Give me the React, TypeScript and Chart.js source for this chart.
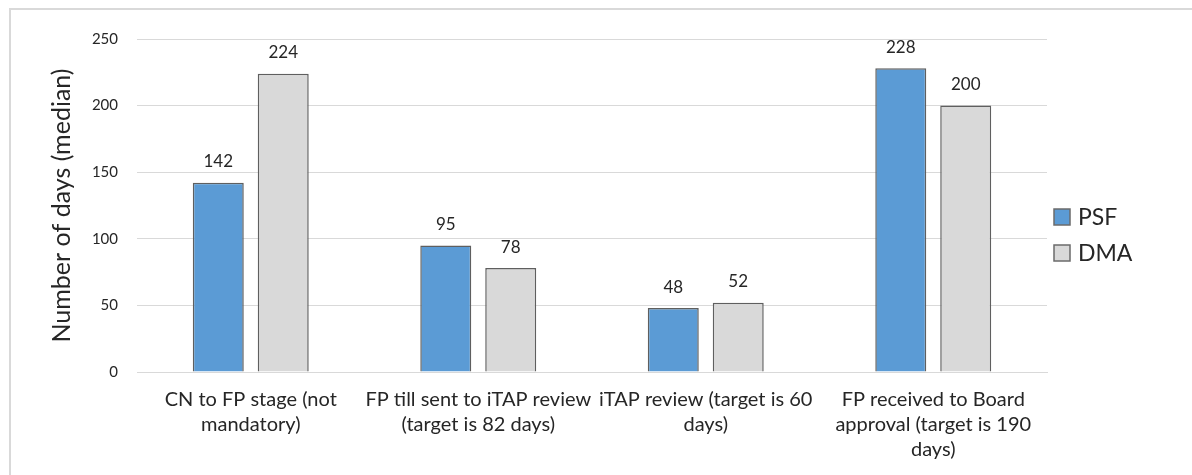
import React, { useEffect, useRef } from "react";
import { Chart, registerables } from "chart.js";

Chart.register(...registerables);

const categories: string[][] = [
  ["CN to FP stage (not", "mandatory)"],
  ["FP till sent to iTAP review", "(target is 82 days)"],
  ["iTAP review (target is 60", "days)"],
  ["FP received to Board", "approval (target is 190", "days)"],
];
const psfValues = [142, 95, 48, 228];
const dmaValues = [224, 78, 52, 200];
const seriesNames = ["PSF", "DMA"];
const yTicks = [0, 50, 100, 150, 200, 250];
const yTitle = "Number of days (median)";

const FONT = "Lato, 'Noto Sans', sans-serif";
const TEXT = "#262626";

const valueLabels = {
  id: "valueLabels",
  afterDatasetsDraw(chart: any) {
    const ctx = chart.ctx;
    ctx.save();
    ctx.font = `17px ${FONT}`;
    ctx.fillStyle = TEXT;
    ctx.textAlign = "center";
    ctx.textBaseline = "middle";
    chart.data.datasets.forEach((ds: any, i: number) => {
      const meta = chart.getDatasetMeta(i);
      meta.data.forEach((el: any, j: number) => {
        ctx.fillText(String(ds.data[j]), el.x, el.y - 21);
      });
    });
    ctx.restore();
  },
};

const customLegend = {
  id: "customLegend",
  afterDraw(chart: any) {
    const ctx = chart.ctx;
    const area = chart.chartArea;
    ctx.save();
    ctx.font = `23px ${FONT}`;
    ctx.textBaseline = "middle";
    ctx.textAlign = "left";
    const x = area.right + 7;
    const yStart = 217;
    chart.data.datasets.forEach((ds: any, i: number) => {
      const y = yStart + i * 36;
      ctx.fillStyle = ds.backgroundColor;
      ctx.fillRect(x, y - 8, 16, 16);
      ctx.strokeStyle = "#6b6b6b";
      ctx.lineWidth = 1.5;
      ctx.strokeRect(x, y - 8, 16, 16);
      ctx.fillStyle = TEXT;
      ctx.fillText(ds.label, x + 24, y + 1);
    });
    ctx.restore();
  },
};

export default function App() {
  const ref = useRef<HTMLCanvasElement>(null);
  useEffect(() => {
    const chart = new Chart(ref.current!, {
      type: "bar",
      data: {
        labels: categories,
        datasets: [
          {
            label: seriesNames[0],
            data: psfValues,
            backgroundColor: "#5b9bd5",
            borderColor: "#5f5f5f",
            borderWidth: 1.5,
            categoryPercentage: 0.571,
            barPercentage: 0.785,
          },
          {
            label: seriesNames[1],
            data: dmaValues,
            backgroundColor: "#d9d9d9",
            borderColor: "#5f5f5f",
            borderWidth: 1.5,
            categoryPercentage: 0.571,
            barPercentage: 0.785,
          },
        ],
      },
      options: {
        animation: false,
        responsive: false,
        maintainAspectRatio: false,
        layout: { padding: { top: 39, left: 35, right: 145, bottom: 0 } },
        plugins: {
          legend: { display: false },
          tooltip: { enabled: false },
        },
        scales: {
          x: {
            grid: { display: false, drawTicks: false },
            border: { display: true, color: "#d9d9d9", width: 1 },
            ticks: {
              color: TEXT,
              font: { family: FONT, size: 20, lineHeight: 1.25 },
              padding: 15,
              maxRotation: 0,
              autoSkip: false,
            },
            afterFit: (s: any) => {
              s.height = 475 - 372;
            },
          },
          y: {
            min: 0,
            max: 250,
            afterBuildTicks: (s: any) => {
              s.ticks = yTicks.map((v) => ({ value: v }));
            },
            grid: { color: "#d9d9d9", lineWidth: 1, drawTicks: false },
            border: { display: false },
            ticks: {
              color: TEXT,
              font: { family: FONT, size: 15 },
              padding: 19,
            },
            title: {
              display: true,
              text: yTitle,
              color: TEXT,
              font: { family: FONT, size: 25, lineHeight: 1.2 },
              padding: { top: 12, bottom: 0 },
            },
            afterFit: (s: any) => {
              s.width = 137 - 35;
            },
          },
        },
      },
      plugins: [valueLabels, customLegend],
    });
    return () => chart.destroy();
  }, []);

  return (
    <div style={{ position: "absolute", left: 0, top: 0, width: 1192, height: 475, background: "#fff", overflow: "hidden" }}>
      <div
        style={{
          position: "absolute",
          left: 9,
          top: 8,
          right: 0,
          bottom: 0,
          borderLeft: "2px solid #d9d9d9",
          borderTop: "2px solid #d9d9d9",
        }}
      />
      <canvas ref={ref} width={1192} height={475} style={{ position: "absolute", left: 0, top: 0 }} />
    </div>
  );
}
